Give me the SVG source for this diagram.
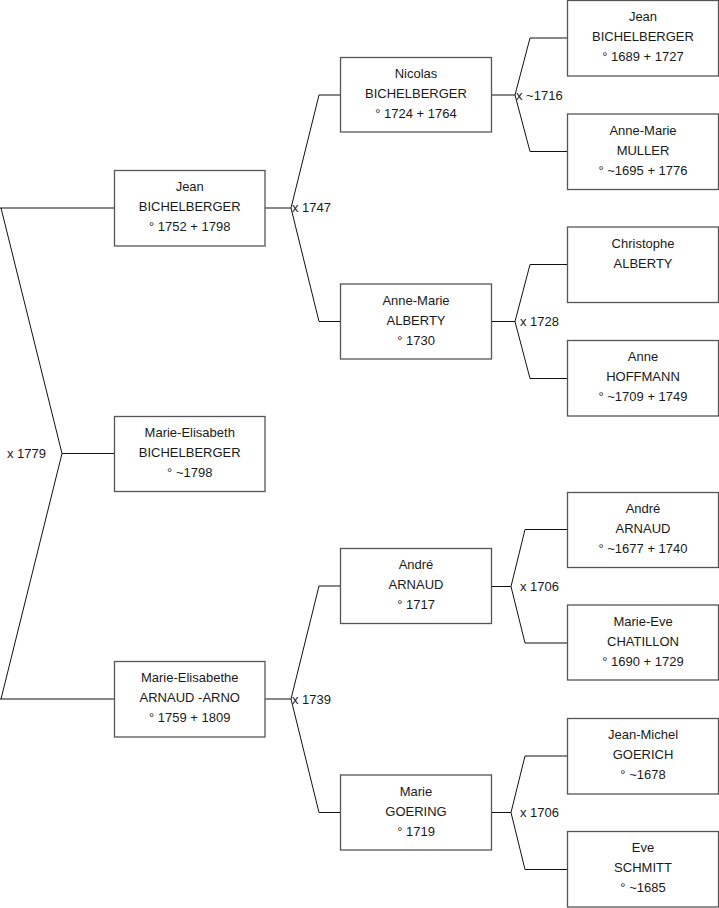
<svg xmlns="http://www.w3.org/2000/svg" width="719" height="908" viewBox="0 0 719 908">
<style>
.box{fill:#fff;stroke:#555;stroke-width:1.3}
.c{fill:none;stroke:#111;stroke-width:1}
text{font-family:"Liberation Sans",Arial,sans-serif;font-size:13px;fill:#1a1a1a}
.t{text-anchor:middle}
</style>
<rect width="719" height="908" fill="#fff"/>
<g id="connectors">
<path class="c" d="M0,208H114M1,208L62,453.5L1,699M62,453.5H114M0,699H114"/>
<path class="c" d="M265,208H291M319,95L291,208L319,321.5M319,95H340M319,321.5H340"/>
<path class="c" d="M265,699H291M319,586L291,699L319,812.5M319,586H340M319,812.5H340"/>
<path class="c" d="M492,95H515M530,38L515,95L530,151.5M530,38H567M530,151.5H567"/>
<path class="c" d="M492,321.5H515M530,264.5L515,321.5L530,378.5M530,264.5H567M530,378.5H567"/>
<path class="c" d="M492,586.5H511M525,529.5L511,586.5L525,643M525,529.5H567M525,643H567"/>
<path class="c" d="M492,812.5H511M525,756L511,812.5L525,869.5M525,756H567M525,869.5H567"/>
</g>
<g id="labels">
<text x="7" y="458">x 1779</text>
<text x="292" y="212">x 1747</text>
<text x="292" y="703.5">x 1739</text>
<text x="516" y="99.5">x ~1716</text>
<text x="520" y="326">x 1728</text>
<text x="520" y="591">x 1706</text>
<text x="520" y="817">x 1706</text>
</g>
<g id="p1"><rect class="box" x="114.5" y="170.5" width="150.5" height="75.5"/><text class="t" x="189.75" y="191">Jean</text><text class="t" x="189.75" y="211">BICHELBERGER</text><text class="t" x="189.75" y="231">° 1752 + 1798</text></g>
<g id="p2"><rect class="box" x="114.5" y="416.5" width="150.5" height="75"/><text class="t" x="189.75" y="437">Marie-Elisabeth</text><text class="t" x="189.75" y="457">BICHELBERGER</text><text class="t" x="189.75" y="477">° ~1798</text></g>
<g id="p3"><rect class="box" x="114.5" y="661.5" width="150.5" height="75.5"/><text class="t" x="189.75" y="682">Marie-Elisabethe</text><text class="t" x="189.75" y="702">ARNAUD -ARNO</text><text class="t" x="189.75" y="722">° 1759 + 1809</text></g>
<g id="p4"><rect class="box" x="340.5" y="57.5" width="151" height="74.5"/><text class="t" x="416" y="78">Nicolas</text><text class="t" x="416" y="98">BICHELBERGER</text><text class="t" x="416" y="118">° 1724 + 1764</text></g>
<g id="p5"><rect class="box" x="340.5" y="284" width="151" height="75"/><text class="t" x="416" y="304.5">Anne-Marie</text><text class="t" x="416" y="324.5">ALBERTY</text><text class="t" x="416" y="344.5">° 1730</text></g>
<g id="p6"><rect class="box" x="340.5" y="548.5" width="151" height="75"/><text class="t" x="416" y="569">André</text><text class="t" x="416" y="589">ARNAUD</text><text class="t" x="416" y="609">° 1717</text></g>
<g id="p7"><rect class="box" x="340.5" y="775" width="151" height="75"/><text class="t" x="416" y="795.5">Marie</text><text class="t" x="416" y="815.5">GOERING</text><text class="t" x="416" y="835.5">° 1719</text></g>
<g id="p8"><rect class="box" x="567.5" y="0.5" width="151" height="75.5"/><text class="t" x="643" y="21">Jean</text><text class="t" x="643" y="41">BICHELBERGER</text><text class="t" x="643" y="61">° 1689 + 1727</text></g>
<g id="p9"><rect class="box" x="567.5" y="114" width="151" height="75.5"/><text class="t" x="643" y="134.5">Anne-Marie</text><text class="t" x="643" y="154.5">MULLER</text><text class="t" x="643" y="174.5">° ~1695 + 1776</text></g>
<g id="p10"><rect class="box" x="567.5" y="227" width="151" height="75.5"/><text class="t" x="643" y="247.5">Christophe</text><text class="t" x="643" y="267.5">ALBERTY</text></g>
<g id="p11"><rect class="box" x="567.5" y="340.5" width="151" height="75.5"/><text class="t" x="643" y="361">Anne</text><text class="t" x="643" y="381">HOFFMANN</text><text class="t" x="643" y="401">° ~1709 + 1749</text></g>
<g id="p12"><rect class="box" x="567.5" y="492.5" width="151" height="75"/><text class="t" x="643" y="513">André</text><text class="t" x="643" y="533">ARNAUD</text><text class="t" x="643" y="553">° ~1677 + 1740</text></g>
<g id="p13"><rect class="box" x="567.5" y="605" width="151" height="75"/><text class="t" x="643" y="625.5">Marie-Eve</text><text class="t" x="643" y="645.5">CHATILLON</text><text class="t" x="643" y="665.5">° 1690 + 1729</text></g>
<g id="p14"><rect class="box" x="567.5" y="718.5" width="151" height="75.5"/><text class="t" x="643" y="739">Jean-Michel</text><text class="t" x="643" y="759">GOERICH</text><text class="t" x="643" y="779">° ~1678</text></g>
<g id="p15"><rect class="box" x="567.5" y="831.5" width="151" height="75.5"/><text class="t" x="643" y="852">Eve</text><text class="t" x="643" y="872">SCHMITT</text><text class="t" x="643" y="892">° ~1685</text></g>
</svg>
